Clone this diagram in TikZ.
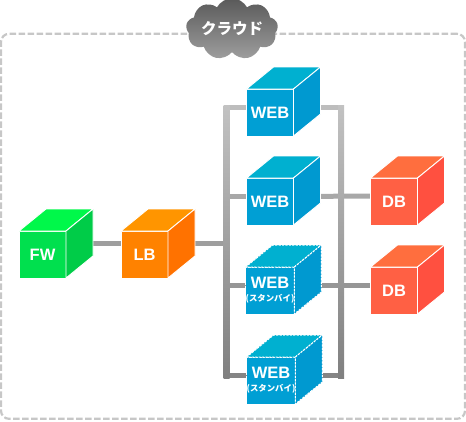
\documentclass[tikz,border=0pt]{standalone}
\usepackage{fontspec}
\setmainfont{Liberation Sans}
\newfontfamily\cjk{Noto Sans CJK JP}
\usepackage{tikz}
\usetikzlibrary{shapes.symbols, positioning, backgrounds}
\definecolor{fwfront}{HTML}{00E04E}
\definecolor{fwtop}{HTML}{00F84A}
\definecolor{fwside}{HTML}{00CC48}
\definecolor{lbfront}{HTML}{FF8200}
\definecolor{lbtop}{HTML}{FF9500}
\definecolor{lbside}{HTML}{FF7200}
\definecolor{webfront}{HTML}{009FD4}
\definecolor{webtop}{HTML}{00B0D0}
\definecolor{webside}{HTML}{0099D0}
\definecolor{dbfront}{HTML}{FF6044}
\definecolor{dbtop}{HTML}{FF6E3E}
\definecolor{dbside}{HTML}{FF5040}
\tikzset{
  front/.style={rectangle, draw=white, line width=0.9pt, minimum size=47pt, inner sep=0pt, outer sep=0pt,
    text=white, align=center, font=\fontsize{16.5}{15}\selectfont\bfseries},
  wire/.style={line width=5pt},
  bus/.style={rectangle, minimum width=6pt, minimum height=273pt, inner sep=0pt, outer sep=0pt,
    top color=black!24, bottom color=black!50},
  standby/.style={line width=1pt, dash pattern=on 2.2pt off 1.2pt},
}
\newcommand{\standbytext}{{\cjk\fontsize{8.4}{9}\selectfont (スタンバイ)}}
\begin{document}
\begin{tikzpicture}[x=1pt, y=-1pt, node distance=42pt]
  \useasboundingbox (0,0) rectangle (466,421);
  % 枠
  \node[rectangle, draw=black!22, line width=2.2pt, dash pattern=on 6.5pt off 2.5pt, rounded corners=8pt,
    minimum width=464pt, minimum height=385pt] (frame) at (233,226.3) {};
  \node[cloud, cloud puffs=9, cloud puff arc=125, aspect=1.9, inner sep=0pt, minimum width=92pt, minimum height=50pt,
    top color=black!65, bottom color=black!38, text=white,
    font=\cjk\fontsize{15.5}{16}\selectfont\bfseries] (cloud) at (232,29) {クラウド};
  % 节点
  \node[front, fill=fwfront] (fw) at (42.5,254.5) {FW};
  \node[front, fill=lbfront, right=55pt of fw] (lb) {LB};
  \node[front, fill=webfront] (web1) at (270,112.5) {WEB};
  \node[front, fill=webfront, below=of web1] (web2) {WEB};
  \node[front, fill=webfront, standby, below=of web2] (web3) {WEB\\[-2pt]\standbytext};
  \node[front, fill=webfront, standby, below=43pt of web3, xshift=1pt] (web4) {WEB\\[-2pt]\standbytext};
  \node[front, fill=dbfront] (db1) at (394,201.5) {DB};
  \node[front, fill=dbfront, below=of db1] (db2) {DB};
  \node[bus] (busl) at (226.7,241.5) {};
  \node[bus] (busr) at (341,241.5) {};
  % 连接
  \begin{scope}[on background layer]
    \coordinate (lbp) at ([yshift=11pt]lb.center);
    \coordinate (fwp) at ([yshift=11pt]fw.center);
    \coordinate (db1p) at ([yshift=5.5pt]db1.center);
    \coordinate (db2p) at ([yshift=5pt]db2.center);
    \draw[wire, black!38] (fwp) -- (lbp);
    \draw[wire, black!38] (lbp) -- (lbp -| busl);
    \foreach \name/\shadeval in {web1/26, web2/34, web3/41, web4/48} {
      \coordinate (\name p) at ([yshift=5pt]\name.center);
      \draw[wire, black!\shadeval] (\name p) -- (\name p -| busl);
    }
    \draw[wire, black!26] (web1p) -- (web1p -| busr);
    \draw[wire, black!34] (web2p) -- (db1p);
    \draw[wire, black!41] (web3p) -- (db2p);
    \draw[wire, black!48] (web4p) -- (web4p -| busr);
  \end{scope}
  % 立方体
  \foreach \name/\topc/\sidec/\linestyle in {fw/fwtop/fwside/solid, lb/lbtop/lbside/solid,
      web1/webtop/webside/solid, web2/webtop/webside/solid,
      web3/webtop/webside/standby, web4/webtop/webside/standby,
      db1/dbtop/dbside/solid, db2/dbtop/dbside/solid} {
    \filldraw[fill=\topc, draw=white, line width=0.9pt, \linestyle] (\name.north west) -- ++(27,-22)
      -- ([shift={(27,-22)}]\name.north east) -- (\name.north east) -- cycle;
    \filldraw[fill=\sidec, draw=white, line width=0.9pt, \linestyle] (\name.north east)
      -- ([shift={(27,-22)}]\name.north east) -- ([shift={(27,-22)}]\name.south east) -- (\name.south east) -- cycle;
  }
\end{tikzpicture}
\end{document}
